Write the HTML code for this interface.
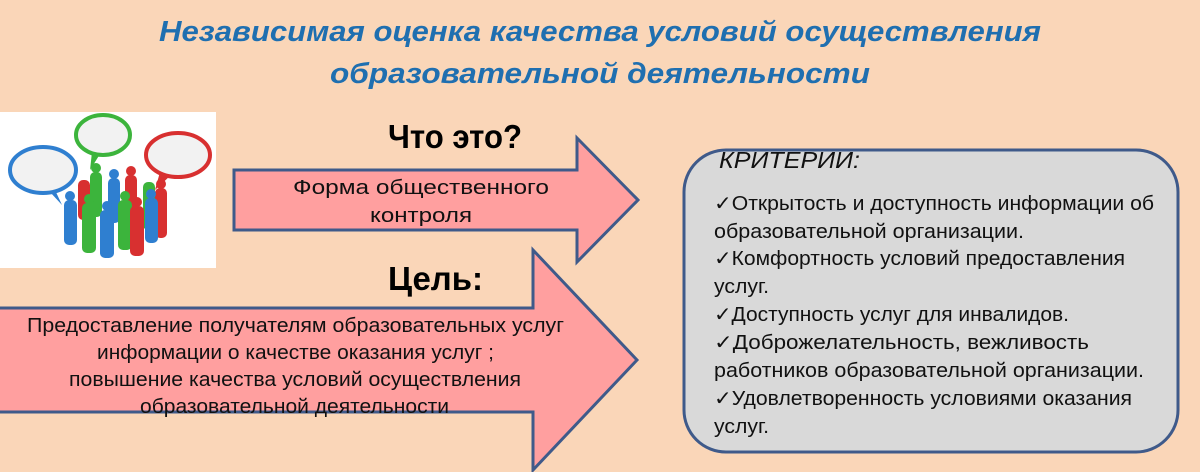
<!DOCTYPE html>
<html><head><meta charset="utf-8"><style>
html,body{margin:0;padding:0;background:#fad6b8;}
svg{display:block}
text{font-family:"Liberation Sans","DejaVu Sans",sans-serif;}
</style></head><body>
<svg width="1200" height="472" viewBox="0 0 1200 472" xmlns="http://www.w3.org/2000/svg">
<rect width="1200" height="472" fill="#fad6b8"/>
<text x="600" y="41" text-anchor="middle" font-size="29" font-weight="bold" font-style="italic" fill="#1f6fb0" textLength="882" lengthAdjust="spacingAndGlyphs">Независимая оценка качества условий осуществления</text>
<text x="600" y="83" text-anchor="middle" font-size="29" font-weight="bold" font-style="italic" fill="#1f6fb0" textLength="540" lengthAdjust="spacingAndGlyphs">образовательной деятельности</text>

<!-- picture -->
<rect x="0" y="112" width="216" height="156" fill="#ffffff"/>
<ellipse cx="43" cy="170" rx="33" ry="23" fill="#f2f2f2" stroke="#2f7fd0" stroke-width="4"/>
<path d="M55,190 L62,205 L50,192Z" fill="#2f7fd0"/>
<ellipse cx="103" cy="135" rx="27" ry="20" fill="#f2f2f2" stroke="#3cb43c" stroke-width="4"/>
<path d="M92,152 L90,170 L100,154Z" fill="#3cb43c"/>
<ellipse cx="178" cy="155" rx="32" ry="22" fill="#f2f2f2" stroke="#d83030" stroke-width="4"/>
<path d="M160,172 L155,190 L170,176Z" fill="#d83030"/>
<g>
<rect x="78" y="180" width="12" height="40" rx="5" fill="#d83030"/>
<rect x="90" y="172" width="12" height="45" rx="5" fill="#3cb43c"/>
<rect x="108" y="178" width="12" height="45" rx="5" fill="#2f7fd0"/>
<rect x="125" y="175" width="12" height="45" rx="5" fill="#d83030"/>
<rect x="143" y="182" width="12" height="48" rx="5" fill="#3cb43c"/>
<rect x="155" y="188" width="12" height="50" rx="5" fill="#d83030"/>
<rect x="64" y="200" width="13" height="45" rx="5" fill="#2f7fd0"/>
<rect x="82" y="203" width="14" height="50" rx="5" fill="#3cb43c"/>
<rect x="100" y="210" width="14" height="48" rx="5" fill="#2f7fd0"/>
<rect x="118" y="200" width="14" height="50" rx="5" fill="#3cb43c"/>
<rect x="130" y="206" width="14" height="50" rx="5" fill="#d83030"/>
<rect x="145" y="198" width="13" height="45" rx="5" fill="#2f7fd0"/>
<circle cx="70" cy="196" r="5" fill="#2f7fd0"/><circle cx="89" cy="199" r="5" fill="#3cb43c"/>
<circle cx="107" cy="206" r="5" fill="#2f7fd0"/><circle cx="125" cy="196" r="5" fill="#3cb43c"/>
<circle cx="137" cy="202" r="5" fill="#d83030"/><circle cx="151" cy="194" r="5" fill="#2f7fd0"/>
<circle cx="96" cy="168" r="5" fill="#3cb43c"/><circle cx="131" cy="171" r="5" fill="#d83030"/>
<circle cx="161" cy="184" r="5" fill="#d83030"/><circle cx="114" cy="174" r="5" fill="#2f7fd0"/>
</g>

<!-- arrow 1 -->
<path d="M234,170 L577,170 L577,138 L638,200 L577,262 L577,230 L234,230 Z" fill="#ff9f9f" stroke="#3f5a8a" stroke-width="3"/>
<text x="388" y="148" font-size="33" font-weight="bold" fill="#000" textLength="134" lengthAdjust="spacingAndGlyphs">Что это?</text>
<text x="293" y="194" font-size="20" fill="#111" textLength="256" lengthAdjust="spacingAndGlyphs">Форма общественного</text>
<text x="370" y="222" font-size="20" fill="#111" textLength="102" lengthAdjust="spacingAndGlyphs">контроля</text>

<!-- arrow 2 -->
<path d="M-5,308 L533,308 L533,250 L637,360 L533,470 L533,412 L-5,412 Z" fill="#ff9f9f" stroke="#3f5a8a" stroke-width="3"/>
<text x="388" y="290" font-size="33" font-weight="bold" fill="#000" textLength="95" lengthAdjust="spacingAndGlyphs">Цель:</text>
<g font-size="20" fill="#111">
<text x="27" y="332" textLength="537" lengthAdjust="spacingAndGlyphs">Предоставление получателям образовательных  услуг</text>
<text x="97" y="359" textLength="397" lengthAdjust="spacingAndGlyphs">информации о качестве оказания услуг ;</text>
<text x="69" y="386" textLength="452" lengthAdjust="spacingAndGlyphs">повышение качества  условий осуществления</text>
<text x="140" y="413" textLength="309" lengthAdjust="spacingAndGlyphs">образовательной деятельности</text>
</g>

<!-- criteria -->
<rect x="684" y="150" width="494" height="302" rx="42" ry="42" fill="#d9d9d9" stroke="#3f5a8a" stroke-width="3"/>
<text x="719" y="168" font-size="23" font-style="italic" fill="#111" textLength="141" lengthAdjust="spacingAndGlyphs">КРИТЕРИИ:</text>
<g font-size="20" fill="#111">
<text x="714" y="210" textLength="440" lengthAdjust="spacingAndGlyphs">✓Открытость и доступность информации об</text>
<text x="714" y="238" textLength="310" lengthAdjust="spacingAndGlyphs">образовательной организации.</text>
<text x="714" y="265" textLength="411" lengthAdjust="spacingAndGlyphs">✓Комфортность условий предоставления</text>
<text x="714" y="293" textLength="55" lengthAdjust="spacingAndGlyphs">услуг.</text>
<text x="714" y="321" textLength="355" lengthAdjust="spacingAndGlyphs">✓Доступность услуг для инвалидов.</text>
<text x="714" y="349" textLength="375" lengthAdjust="spacingAndGlyphs">✓Доброжелательность, вежливость</text>
<text x="714" y="377" textLength="430" lengthAdjust="spacingAndGlyphs">работников образовательной организации.</text>
<text x="714" y="405" textLength="418" lengthAdjust="spacingAndGlyphs">✓Удовлетворенность условиями оказания</text>
<text x="714" y="433" textLength="55" lengthAdjust="spacingAndGlyphs">услуг.</text>
</g>
</svg>
</body></html>
